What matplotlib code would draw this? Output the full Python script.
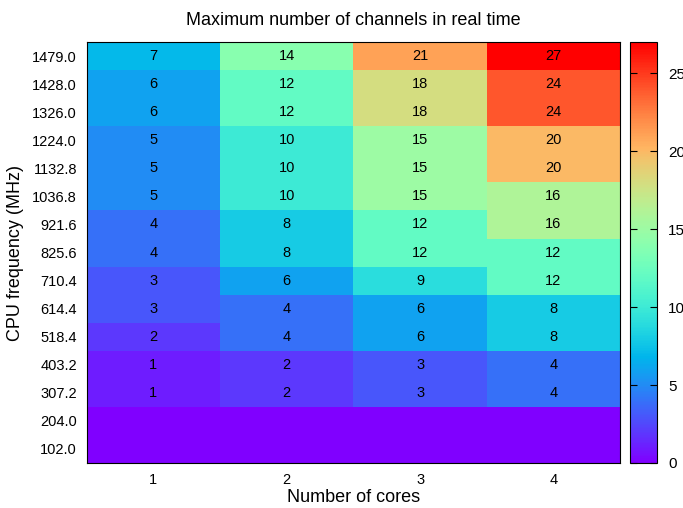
import numpy as np
import matplotlib.pyplot as plt

plt.rcParams['font.family'] = ['Liberation Sans', 'DejaVu Sans']

cores = [1, 2, 3, 4]
freqs = ['102.0', '204.0', '307.2', '403.2', '518.4', '614.4', '710.4', '825.6',
         '921.6', '1036.8', '1132.8', '1224.0', '1326.0', '1428.0', '1479.0']
# channels per core count, bottom row (102.0) first
ch_1 = [0, 0, 1, 1, 2, 3, 3, 4, 4, 5, 5, 5, 6, 6, 7]
ch_2 = [0, 0, 2, 2, 4, 4, 6, 8, 8, 10, 10, 10, 12, 12, 14]
ch_3 = [0, 0, 3, 3, 6, 6, 9, 12, 12, 15, 15, 15, 18, 18, 21]
ch_4 = [0, 0, 4, 4, 8, 8, 12, 12, 16, 16, 20, 20, 24, 24, 27]

grid = np.array([ch_1, ch_2, ch_3, ch_4]).T

fig = plt.figure(figsize=(6.83, 5.08), dpi=100)
ax = fig.add_axes([0.127, 0.0886, 0.781, 0.8285])
cax = fig.add_axes([0.922, 0.0886, 0.040, 0.8285])

mesh = ax.pcolormesh(np.arange(len(cores) + 1) + 0.5, np.arange(len(freqs) + 1) - 0.5,
                     grid, cmap='rainbow', vmin=0, vmax=27)

for i in range(len(freqs)):
    for j in range(len(cores)):
        v = grid[i, j]
        if v > 0:
            ax.text(cores[j], i, str(v), ha='center', va='center', fontsize=10.5, color='black')

ax.set_xticks(cores)
ax.set_xticklabels([str(c) for c in cores])
ax.set_yticks(range(len(freqs)))
ax.set_yticklabels(freqs)
ax.tick_params(length=0, labelsize=10.5, pad=7)
ax.set_xlabel('Number of cores', fontsize=13, labelpad=2)
ax.set_ylabel('CPU frequency (MHz)', fontsize=13, labelpad=6)
ax.set_title('Maximum number of channels in real time', fontsize=13, pad=12)

cb = fig.colorbar(mesh, cax=cax)
cb.set_ticks([0, 5, 10, 15, 20, 25])
cax.tick_params(direction='in', length=5, width=0.8, labelsize=11, pad=8,
                left=True, right=True)

fig.savefig('out.png', dpi=100)
